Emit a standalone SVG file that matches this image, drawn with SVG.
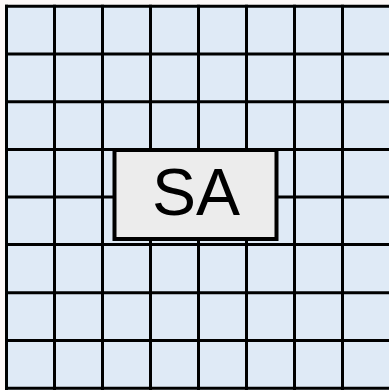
<svg xmlns="http://www.w3.org/2000/svg" width="389" height="390" viewBox="0 0 389 390">
<style>
.grid line{stroke:#000;stroke-width:3}
.sa rect{fill:#ececec;stroke:#000;stroke-width:4}
.sa text{font-family:"Liberation Sans",Arial,sans-serif;font-size:66px;fill:#000;text-anchor:middle}
</style>
<rect x="0" y="0" width="389" height="390" fill="#fdf8f7"/>
<g id="grid" class="grid">
<rect x="6.5" y="6.3" width="390" height="390" fill="#dfeaf6"/>
<line x1="6.5" y1="4.8" x2="6.5" y2="392"/>
<line x1="54.5" y1="4.8" x2="54.5" y2="392"/>
<line x1="102.5" y1="4.8" x2="102.5" y2="392"/>
<line x1="150.5" y1="4.8" x2="150.5" y2="392"/>
<line x1="198.5" y1="4.8" x2="198.5" y2="392"/>
<line x1="246.5" y1="4.8" x2="246.5" y2="392"/>
<line x1="294.5" y1="4.8" x2="294.5" y2="392"/>
<line x1="342.5" y1="4.8" x2="342.5" y2="392"/>
<line x1="5" y1="6.3" x2="392" y2="6.3"/>
<line x1="5" y1="54" x2="392" y2="54"/>
<line x1="5" y1="101.7" x2="392" y2="101.7"/>
<line x1="5" y1="149.4" x2="392" y2="149.4"/>
<line x1="5" y1="197" x2="392" y2="197"/>
<line x1="5" y1="244.6" x2="392" y2="244.6"/>
<line x1="5" y1="292.8" x2="392" y2="292.8"/>
<line x1="5" y1="340.6" x2="392" y2="340.6"/>
<line x1="5" y1="388.3" x2="392" y2="388.3"/>
</g>
<g id="SA" class="sa">
<rect x="114.5" y="150" width="162" height="89"/>
<text x="196" y="215">SA</text>
</g>
</svg>
